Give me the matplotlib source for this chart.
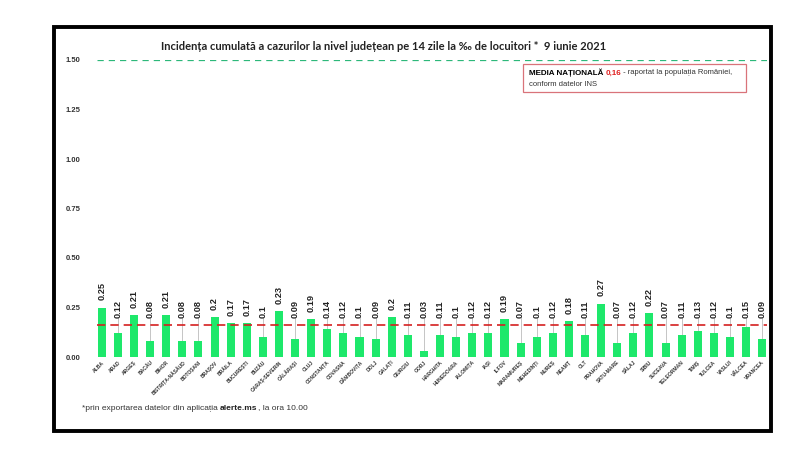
import matplotlib
matplotlib.use("Agg")
import matplotlib.pyplot as plt
from matplotlib.patches import Rectangle

counties = ["ALBA", "ARAD", "ARGEȘ", "BACĂU", "BIHOR", "BISTRIȚA-NĂSĂUD", "BOTOȘANI",
            "BRAȘOV", "BRĂILA", "BUCUREȘTI", "BUZĂU", "CARAȘ-SEVERIN", "CĂLĂRAȘI",
            "CLUJ", "CONSTANȚA", "COVASNA", "DÂMBOVIȚA", "DOLJ", "GALAȚI", "GIURGIU",
            "GORJ", "HARGHITA", "HUNEDOARA", "IALOMIȚA", "IAȘI", "ILFOV", "MARAMUREȘ",
            "MEHEDINȚI", "MUREȘ", "NEAMȚ", "OLT", "PRAHOVA", "SATU-MARE", "SĂLAJ",
            "SIBIU", "SUCEAVA", "TELEORMAN", "TIMIȘ", "TULCEA", "VASLUI", "VÂLCEA",
            "VRANCEA"]
values = [0.25, 0.12, 0.21, 0.08, 0.21, 0.08, 0.08, 0.2, 0.17, 0.17, 0.1, 0.23, 0.09,
          0.19, 0.14, 0.12, 0.1, 0.09, 0.2, 0.11, 0.03, 0.11, 0.1, 0.12, 0.12, 0.19,
          0.07, 0.1, 0.12, 0.18, 0.11, 0.27, 0.07, 0.12, 0.22, 0.07, 0.11, 0.13, 0.12,
          0.1, 0.15, 0.09]
national_avg = 0.16
threshold = 1.5
yticks = [0.0, 0.25, 0.5, 0.75, 1.0, 1.25, 1.5]

plt.rcParams['font.family'] = ['Liberation Sans', 'DejaVu Sans']

W, H = 800, 453
fig = plt.figure(figsize=(8, 4.53), dpi=100)

# outer black frame
fig.patches.append(Rectangle((54 / W, 1 - 431 / H), (771 - 54) / W, (431 - 27) / H,
                             transform=fig.transFigure, fill=False,
                             edgecolor='black', linewidth=2.8))

ax = fig.add_axes([97 / W, 1 - 357 / H, (767 - 97) / W, (357 - 60) / H])
x = list(range(len(counties)))
ax.bar(x, values, width=0.5, color='#1EE86B', zorder=2)
ax.set_xlim(-0.3, len(counties) - 0.7)
ax.set_ylim(0, 1.5)
ax.set_yticks(yticks)
ax.set_yticklabels([f"{t:.2f}" for t in yticks], fontsize=5.5, color='#333333',
                   fontweight='bold')
ax.tick_params(axis='y', length=0, pad=12)
ax.set_xticks(x)
ax.set_xticklabels(counties, rotation=45, ha='right', va='top', fontsize=3.6,
                   color='#333333', rotation_mode='anchor', fontweight='bold')
ax.tick_params(axis='x', length=0, pad=2)
for s in ax.spines.values():
    s.set_visible(False)

ax.axhline(threshold, color='#2DB87A', linestyle=(0, (5, 4)), linewidth=0.9, zorder=1)
ax.axhline(national_avg, color='#D42020', linestyle=(0, (5, 3)), linewidth=1.2, zorder=3)

for xi, v in zip(x, values):
    ly = max(v, national_avg) + 0.035
    if v < national_avg:
        ax.plot([xi, xi], [v, ly], color='#BBBBBB', linewidth=0.6, zorder=1)
    ax.text(xi, ly + 0.003, f"{v:g}", rotation=90, ha='center', va='bottom',
            fontsize=6.6, color='#222222', fontweight='bold', zorder=4)

# title
fig.text(384 / W, 1 - 46 / H,
         "Incidența cumulată a cazurilor la nivel județean pe 14 zile la ‰ de locuitori *  9 iunie 2021",
         ha='center', va='center', fontsize=8.0, fontweight='bold', color='#222222',
         family=['Lato', 'DejaVu Sans'])

# national average box
fig.patches.append(Rectangle((523 / W, 1 - 92 / H), (746 - 523) / W, (92 - 64) / H,
                             transform=fig.transFigure, fill=False,
                             edgecolor='#D9737A', linewidth=0.9))
fs_box = 5.8
fs_box2 = 5.5
t1 = fig.text(529 / W, 1 - 73 / H, "MEDIA NAȚIONALĂ ", ha='left', va='center',
              fontsize=fs_box, fontweight='bold', color='black')
fig.canvas.draw()
r = fig.canvas.get_renderer()
bb = t1.get_window_extent(r)
t2 = fig.text(bb.x1 / W, 1 - 73 / H, "0,16", ha='left', va='center',
              fontsize=fs_box, fontweight='bold', color='#E02020')
bb2 = t2.get_window_extent(r)
fig.text(bb2.x1 / W, 1 - 73 / H, " - raportat la populația României,", ha='left',
         va='center', fontsize=fs_box2, color='#333333')
fig.text(529 / W, 1 - 84.5 / H, "conform datelor INS", ha='left', va='center',
         fontsize=fs_box2, color='#333333')

# footnote
fs_f = 6.0
f1 = fig.text(82 / W, 1 - 408 / H, "*prin exportarea datelor din aplicația ", ha='left',
              va='center', fontsize=fs_f, color='#333333')
bbf = f1.get_window_extent(r)
f2 = fig.text(bbf.x1 / W, 1 - 408 / H, "alerte.ms", ha='left', va='center',
              fontsize=fs_f, fontweight='bold', color='#222222')
bbf2 = f2.get_window_extent(r)
fig.text(bbf2.x1 / W, 1 - 408 / H, ", la ora 10.00", ha='left', va='center',
         fontsize=fs_f, color='#333333')

fig.savefig("out.png", dpi=100)
